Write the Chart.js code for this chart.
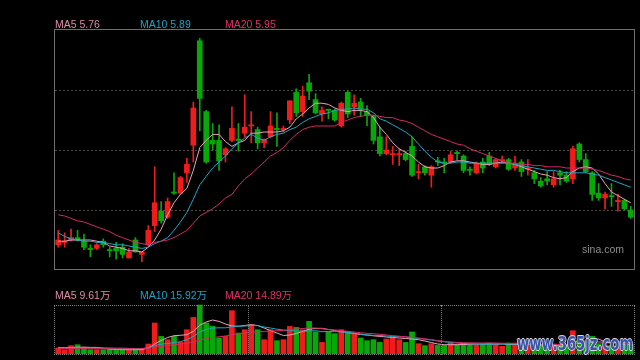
<!DOCTYPE html>
<html>
<head>
<meta charset="utf-8">
<script src="https://cdn.jsdelivr.net/npm/chart.js@4.4.1/dist/chart.umd.min.js"></script>
<style>
  html, body { margin: 0; padding: 0; background: #000; }
  body { width: 640px; height: 360px; position: relative; overflow: hidden;
         font-family: "Liberation Sans", Arial, "Noto Sans CJK SC", sans-serif; }
  canvas { position: absolute; }
  .lbl { position: absolute; font-size: 10.5px; line-height: 1; white-space: nowrap; }
  #kFrame { position: absolute; left: 54px; top: 29px; width: 581px; height: 241px;
            box-sizing: border-box; border: 1px solid #6e6e6e; }
  #vFrame { position: absolute; left: 54px; top: 305px; width: 581px; height: 50px;
            box-sizing: border-box; border: 1px dotted #7a7a7a; }
  .vline { position: absolute; top: 305px; height: 50px; border-left: 1px dotted #7a7a7a; }
  #sina { position: absolute; left: 582px; top: 244px; font-size: 10.5px; line-height: 1; color: #8c8c8c; }
  #mark { position: absolute; left: 517px; top: 334px; font: bold 19px "DejaVu Sans", sans-serif;
          line-height: 1; white-space: nowrap; color: rgba(30, 60, 150, 0.85); transform-origin: 0 0;
          text-shadow: 1px 0 #d8d8e8, -1px 0 #d8d8e8, 0 1px #d8d8e8, 0 -1px #d8d8e8; }
</style>
</head>
<body>
<canvas id="kline" width="579" height="240" style="left:55px;top:30px"></canvas>
<canvas id="vol" width="579" height="50" style="left:55px;top:304px"></canvas>

<div id="kFrame"></div>
<div id="vFrame"></div>
<div class="vline" style="left:248px"></div>
<div class="vline" style="left:441px"></div>

<div class="lbl" style="left:55px;top:19px;color:#e08aa8">MA5 5.76</div>
<div class="lbl" style="left:140px;top:19px;color:#1ea2c2">MA10 5.89</div>
<div class="lbl" style="left:225px;top:19px;color:#e0306a">MA20 5.95</div>
<div class="lbl" style="left:55px;top:290px;color:#e08aa8">MA5 9.61万</div>
<div class="lbl" style="left:140px;top:290px;color:#1ea2c2">MA10 15.92万</div>
<div class="lbl" style="left:225px;top:290px;color:#e0306a">MA20 14.89万</div>
<div id="sina">sina.com</div>
<div id="mark">www.365jz.com</div>

<script>
// 90 trading days, oldest first
const days = Array.from({ length: 90 }, (_, i) => 'D' + (i + 1));

const openP = [5.41, 5.43, 5.45, 5.47, 5.44, 5.38, 5.38, 5.44, 5.37, 5.38,
  5.39, 5.30, 5.45, 5.33, 5.41, 5.57, 5.69, 5.64, 5.85, 5.84,
  6.01, 6.24, 7.11, 6.52, 6.28, 6.28, 6.16, 6.28, 6.29, 6.34,
  6.40, 6.37, 6.26, 6.31, 6.38, 6.37, 6.45, 6.68, 6.52, 6.76,
  6.62, 6.50, 6.54, 6.53, 6.40, 6.68, 6.56, 6.60, 6.52, 6.48,
  6.31, 6.17, 6.16, 6.16, 6.17, 6.23, 6.01, 6.06, 5.99, 6.11,
  6.10, 6.10, 6.18, 6.15, 6.04, 6.01, 6.10, 6.15, 6.06, 6.11,
  6.12, 6.05, 6.10, 6.04, 6.01, 5.94, 5.96, 5.91, 6.01, 5.99,
  5.96, 6.25, 6.12, 6.01, 5.84, 5.80, 5.82, 5.77, 5.78, 5.70];
const closeP = [5.45, 5.44, 5.47, 5.45, 5.39, 5.37, 5.41, 5.41, 5.36, 5.36,
  5.33, 5.35, 5.35, 5.35, 5.53, 5.76, 5.61, 5.77, 5.84, 5.97,
  6.08, 6.55, 6.63, 6.10, 6.25, 6.11, 6.21, 6.38, 6.28, 6.39,
  6.41, 6.26, 6.29, 6.40, 6.37, 6.38, 6.61, 6.51, 6.65, 6.69,
  6.51, 6.53, 6.53, 6.45, 6.59, 6.50, 6.59, 6.54, 6.49, 6.28,
  6.17, 6.20, 6.17, 6.17, 6.12, 5.99, 6.02, 6.01, 6.06, 6.10,
  6.09, 6.16, 6.17, 6.03, 6.03, 6.09, 6.05, 6.08, 6.12, 6.12,
  6.04, 6.09, 6.02, 6.05, 5.96, 5.90, 5.94, 5.96, 5.99, 5.94,
  6.21, 6.12, 6.02, 5.83, 5.80, 5.83, 5.81, 5.78, 5.71, 5.64];
const highP = [5.53, 5.51, 5.54, 5.53, 5.50, 5.41, 5.42, 5.46, 5.39, 5.43,
  5.42, 5.38, 5.47, 5.35, 5.57, 6.06, 5.77, 5.80, 6.01, 5.98,
  6.13, 6.60, 7.13, 6.53, 6.42, 6.41, 6.22, 6.56, 6.42, 6.66,
  6.52, 6.39, 6.29, 6.52, 6.51, 6.40, 6.61, 6.71, 6.73, 6.83,
  6.67, 6.56, 6.54, 6.54, 6.60, 6.69, 6.66, 6.63, 6.57, 6.49,
  6.39, 6.31, 6.23, 6.21, 6.19, 6.31, 6.08, 6.07, 6.07, 6.14,
  6.13, 6.19, 6.19, 6.16, 6.06, 6.10, 6.13, 6.18, 6.13, 6.15,
  6.13, 6.15, 6.12, 6.12, 6.03, 5.97, 6.02, 6.02, 6.03, 6.02,
  6.23, 6.26, 6.17, 6.02, 5.92, 5.85, 5.92, 5.83, 5.79, 5.73];
const lowP = [5.39, 5.39, 5.44, 5.44, 5.37, 5.31, 5.37, 5.39, 5.31, 5.29,
  5.30, 5.30, 5.35, 5.27, 5.40, 5.52, 5.59, 5.63, 5.83, 5.83,
  5.93, 6.10, 6.36, 6.09, 6.20, 6.03, 6.10, 6.27, 6.19, 6.31,
  6.26, 6.21, 6.22, 6.30, 6.23, 6.35, 6.42, 6.48, 6.48, 6.62,
  6.50, 6.44, 6.46, 6.44, 6.39, 6.47, 6.49, 6.48, 6.40, 6.25,
  6.15, 6.16, 6.08, 6.07, 6.11, 5.98, 5.96, 5.99, 5.89, 6.07,
  6.01, 6.09, 6.12, 6.01, 5.99, 6.00, 6.01, 6.07, 6.05, 6.09,
  6.03, 6.03, 5.98, 5.99, 5.92, 5.89, 5.91, 5.89, 5.91, 5.93,
  5.92, 6.10, 6.01, 5.78, 5.78, 5.71, 5.73, 5.69, 5.70, 5.63];

const ma5 = [5.44, 5.44, 5.45, 5.45, 5.45, 5.45, 5.44, 5.43, 5.40, 5.39,
  5.38, 5.36, 5.36, 5.35, 5.39, 5.45, 5.54, 5.66, 5.76, 5.83,
  5.88, 6.03, 6.22, 6.28, 6.33, 6.33, 6.27, 6.23, 6.26, 6.28,
  6.34, 6.34, 6.35, 6.35, 6.35, 6.36, 6.39, 6.46, 6.50, 6.55,
  6.59, 6.59, 6.58, 6.55, 6.53, 6.52, 6.53, 6.53, 6.52, 6.47,
  6.39, 6.33, 6.26, 6.21, 6.18, 6.15, 6.10, 6.06, 6.05, 6.05,
  6.07, 6.10, 6.11, 6.11, 6.10, 6.09, 6.08, 6.08, 6.09, 6.10,
  6.09, 6.08, 6.06, 6.04, 6.02, 6.00, 5.99, 5.97, 5.96, 5.97,
  6.02, 6.05, 6.06, 6.05, 6.00, 5.92, 5.85, 5.82, 5.79, 5.76];
const ma10 = [5.51, 5.48, 5.46, 5.45, 5.44, 5.44, 5.43, 5.43, 5.42, 5.41,
  5.41, 5.40, 5.39, 5.38, 5.39, 5.42, 5.44, 5.47, 5.53, 5.60,
  5.68, 5.79, 5.91, 5.98, 6.05, 6.10, 6.15, 6.21, 6.26, 6.30,
  6.33, 6.30, 6.28, 6.31, 6.33, 6.34, 6.37, 6.39, 6.43, 6.46,
  6.48, 6.50, 6.51, 6.53, 6.54, 6.54, 6.55, 6.54, 6.54, 6.51,
  6.46, 6.44, 6.41, 6.38, 6.35, 6.31, 6.25, 6.19, 6.14, 6.10,
  6.09, 6.09, 6.10, 6.10, 6.09, 6.09, 6.09, 6.09, 6.09, 6.09,
  6.09, 6.08, 6.07, 6.06, 6.05, 6.04, 6.03, 6.03, 6.02, 6.01,
  6.01, 6.01, 6.01, 6.00, 5.99, 5.97, 5.95, 5.93, 5.91, 5.89];
const ma20 = [5.66, 5.65, 5.63, 5.61, 5.60, 5.58, 5.56, 5.54, 5.52, 5.49,
  5.47, 5.45, 5.43, 5.42, 5.41, 5.43, 5.44, 5.45, 5.47, 5.50,
  5.53, 5.59, 5.65, 5.68, 5.71, 5.75, 5.80, 5.83, 5.90, 5.96,
  6.00, 6.05, 6.10, 6.15, 6.18, 6.22, 6.28, 6.33, 6.37, 6.39,
  6.40, 6.40, 6.40, 6.40, 6.43, 6.45, 6.47, 6.48, 6.49, 6.49,
  6.48, 6.47, 6.47, 6.45, 6.44, 6.42, 6.39, 6.36, 6.33, 6.31,
  6.29, 6.27, 6.25, 6.24, 6.21, 6.19, 6.17, 6.15, 6.13, 6.11,
  6.09, 6.09, 6.08, 6.08, 6.07, 6.07, 6.06, 6.06, 6.06, 6.05,
  6.05, 6.05, 6.05, 6.04, 6.03, 6.01, 5.99, 5.98, 5.96, 5.95];

// volume in 万 shares
const volume = [6, 4.3, 8.3, 9.3, 6.6, 4.3, 4.3, 4.3, 5.3, 3.6,
  4.3, 4.3, 5, 4.3, 10, 31, 17.6, 14.3, 17.6, 11.6,
  24.3, 36.6, 49, 31, 27.6, 16, 17.6, 43.3, 21, 24.3,
  29.3, 24.3, 14.3, 24.3, 13.3, 14.3, 27.6, 26.6, 24.3, 32.6,
  22, 11.6, 22.6, 20.3, 24.3, 22.6, 20, 16, 13.3, 14.3,
  11.6, 15, 16, 14.3, 11.6, 22, 10.3, 8.3, 10.3, 8.6,
  8.6, 11, 9.3, 11, 9.3, 9.3, 10, 11, 10, 7.7,
  11, 11, 9, 8, 9, 9, 8, 10, 8, 9,
  23.3, 14, 10, 17.6, 10, 9, 9, 10, 10, 10];
const volMa5 = [6.6, 6.4, 6.5, 6.7, 6.9, 6.6, 6.6, 5.8, 4.9, 4.4,
  4.4, 4.3, 4.3, 4.4, 6, 10, 13.5, 16.5, 18.3, 18.7,
  19.3, 22.6, 28.8, 32, 34, 32.6, 30, 28, 27.8, 28.5,
  29.3, 28.5, 26, 23.3, 21, 18.5, 19, 20.5, 22.5, 24.8,
  25.5, 25.7, 24.5, 23.5, 22.3, 21.3, 20.5, 19.5, 19, 18.2,
  17.6, 17, 16.5, 16, 15.5, 15, 14.3, 13, 11.5, 10,
  9.3, 9.3, 9.3, 9.5, 9.8, 10, 10, 10, 10, 10,
  9.7, 9.5, 9.5, 9.2, 9.3, 9.3, 8.8, 8.8, 8.8, 8.8,
  11.7, 12.7, 12.9, 14.8, 15, 12.1, 11.2, 11.3, 9.6, 9.61];
const volMa10 = [6.2, 6.2, 6.2, 6.1, 6.0, 6.0, 6.0, 6.0, 6.0, 5.8,
  5.8, 5.6, 5.5, 5.5, 6.2, 8.5, 9.8, 10.5, 11.5, 12.3,
  14.3, 17.5, 22, 24.5, 26, 26.2, 26.2, 27.3, 27.7, 28,
  28.5, 28.3, 27, 26, 24.8, 24, 23.3, 23, 22.8, 23,
  23.3, 22.3, 22.5, 22.3, 22.3, 21.5, 21, 20, 19, 18.7,
  18.5, 18, 17.5, 17.3, 17, 16.3, 15.5, 14.8, 14, 13,
  12.2, 11.5, 11, 10.5, 10.3, 10, 9.7, 9.8, 10, 10,
  10, 10, 9.8, 9.6, 9.4, 9.2, 9, 9, 9, 8.9,
  10.3, 10.9, 11, 11.8, 12, 12.1, 12, 12.2, 12.3, 12.6];
const volMa20 = [5.5, 5.5, 5.5, 5.4, 5.4, 5.4, 5.3, 5.3, 5.3, 5.3,
  5.3, 5.3, 5.3, 5.4, 5.8, 6.8, 7.6, 8.5, 9.3, 10,
  10.8, 12, 14, 15.3, 16.5, 17.2, 18, 19.3, 20.2, 21,
  21.8, 22.3, 22.6, 23, 23.3, 23.6, 24.3, 25, 25.5, 26,
  26, 25.3, 24.5, 24, 23.5, 22.7, 22, 21.3, 20.7, 20.3,
  19.7, 19, 18.4, 17.8, 17.2, 16.6, 16, 15.2, 14.3, 13.4,
  12.6, 12.1, 11.6, 11.3, 11.2, 11.1, 11, 11, 11, 10.8,
  10.6, 10.4, 10.3, 10.1, 10, 9.8, 9.6, 9.6, 9.5, 9.4,
  10.1, 10.4, 10.4, 10.9, 11, 11, 11, 11.1, 11.1, 11.2];

const UP = '#f01c1c', DOWN = '#08a808';
const C5 = '#e8a2bc', C10 = '#1fa6c6', C20 = '#d42a62';

// red when the day closed up, green when it closed down
const dayColor = closeP.map((c, i) => c >= openP[i] ? UP : DOWN);

function maLine(label, data, color) {
  return { type: 'line', label: label, data: data, borderColor: color, borderWidth: 1,
           pointRadius: 0, tension: 0, order: 0 };
}

const zeroWidth = function (scale) { scale.width = 0; };

const baseOptions = {
  responsive: false,
  animation: false,
  devicePixelRatio: 1,
  layout: { padding: 0 },
  plugins: { legend: { display: false }, tooltip: { enabled: false } }
};

new Chart(document.getElementById('kline'), {
  type: 'bar',
  data: {
    labels: days,
    datasets: [
      maLine('MA20', ma20, C20),
      maLine('MA10', ma10, C10),
      maLine('MA5', ma5, C5),
      { label: 'body', data: openP.map((o, i) => [o, closeP[i]]), backgroundColor: dayColor,
        barThickness: 5, minBarLength: 1, grouped: false, order: 1 },
      { label: 'wick', data: lowP.map((l, i) => [l, highP[i]]), backgroundColor: dayColor,
        barThickness: 1, grouped: false, order: 2 }
    ]
  },
  options: Object.assign({}, baseOptions, {
    scales: {
      x: { display: false, offset: true },
      y: {
        min: 5.2, max: 7.2,
        ticks: { display: false, stepSize: 0.5 },
        grid: {
          drawTicks: false,
          color: c => (c.tick.value > 5.3 && c.tick.value < 7.1) ? '#4c4c4c' : 'rgba(0,0,0,0)'
        },
        border: { display: false, dash: [2, 2] },
        afterFit: zeroWidth
      }
    }
  })
});

new Chart(document.getElementById('vol'), {
  type: 'bar',
  data: {
    labels: days,
    datasets: [
      maLine('MA20', volMa20, C20),
      maLine('MA10', volMa10, C10),
      maLine('MA5', volMa5, C5),
      { label: 'volume', data: volume, backgroundColor: dayColor, barThickness: 5, order: 1 }
    ]
  },
  options: Object.assign({}, baseOptions, {
    scales: {
      x: { display: false, offset: true },
      y: { min: 0, max: 50, display: false, afterFit: zeroWidth }
    }
  })
});

// squeeze the watermark to its width in the picture
const mark = document.getElementById('mark');
mark.style.transform = 'scaleX(' + (116 / mark.offsetWidth) + ')';
</script>
</body>
</html>
